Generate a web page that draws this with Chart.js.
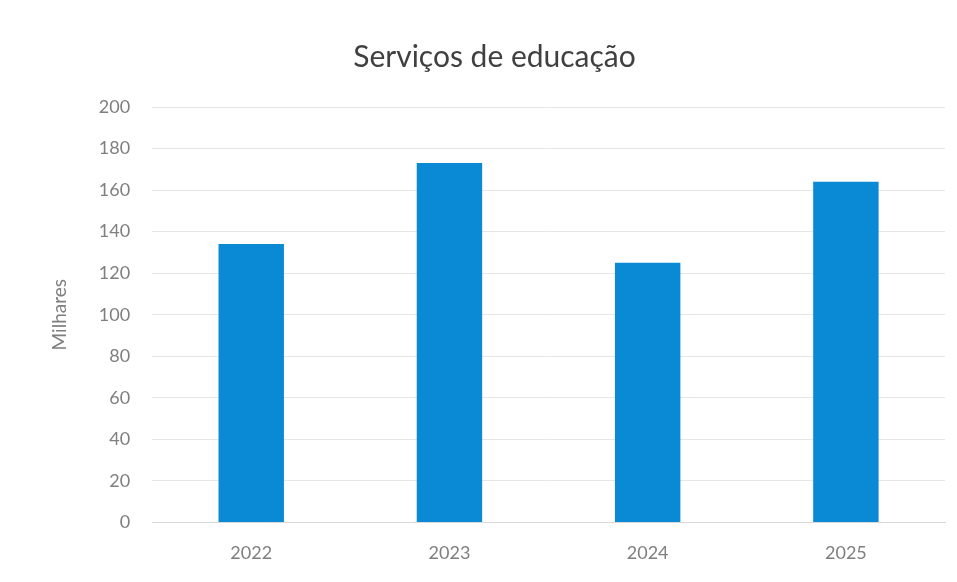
<!DOCTYPE html>
<html>
<head>
<meta charset="utf-8">
<script src="https://cdn.jsdelivr.net/npm/chart.js@4"></script>
<style>
    html, body { margin: 0; padding: 0; background: #fff; }
    #wrap { width: 957px; height: 582px; }
</style>
</head>
<body>
<div id="wrap"><canvas id="chart"></canvas></div>
<script>
const years = ['2022', '2023', '2024', '2025'];
const milhares = [134, 173, 125, 164];
const yTicks = [0, 20, 40, 60, 80, 100, 120, 140, 160, 180, 200];

new Chart(document.getElementById('chart'), {
    type: 'bar',
    data: {
        labels: years,
        datasets: [{
            label: 'Serviços de educação',
            data: milhares,
            backgroundColor: '#0a8ad4',
            categoryPercentage: 1,
            barPercentage: 0.33
        }]
    },
    options: {
        responsive: true,
        maintainAspectRatio: false,
        animation: false,
        layout: { padding: { left: 44, right: 12, top: 35, bottom: 6 } },
        plugins: {
            legend: { display: false },
            tooltip: { enabled: false },
            title: {
                display: true,
                text: 'Serviços de educação',
                color: '#404040',
                font: { family: 'Lato', size: 30, weight: 'normal' },
                padding: { top: 4, bottom: 32 }
            }
        },
        scales: {
            x: {
                grid: { display: false },
                border: { color: '#d9d9d9' },
                ticks: { color: '#7f7f7f', font: { family: 'Lato', size: 18 }, padding: 12 }
            },
            y: {
                min: 0,
                max: 200,
                afterBuildTicks: axis => { axis.ticks = yTicks.map(v => ({ value: v })); },
                grid: { color: '#e6e6e6', drawTicks: false },
                border: { display: false },
                ticks: { color: '#7f7f7f', font: { family: 'Lato', size: 18 }, padding: 22 },
                title: {
                    display: true,
                    text: 'Milhares',
                    color: '#7f7f7f',
                    font: { family: 'Lato', size: 19 },
                    padding: { bottom: 6 }
                }
            }
        }
    }
});
</script>
</body>
</html>
